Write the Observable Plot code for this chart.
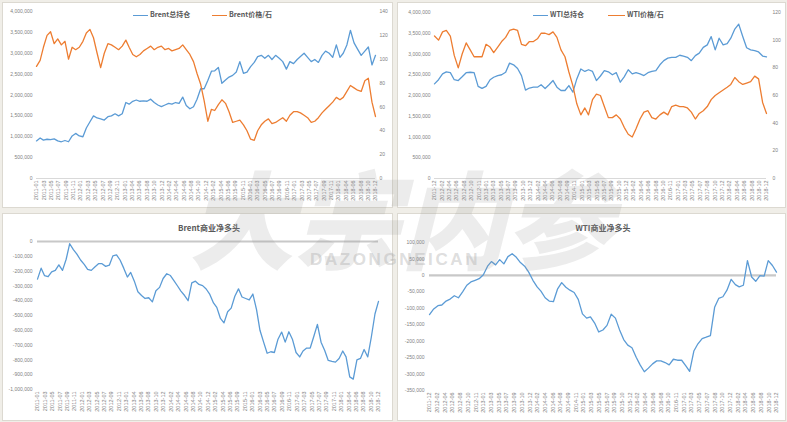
<!DOCTYPE html>
<html><head><meta charset="utf-8">
<script src="https://cdn.jsdelivr.net/npm/d3@7"></script>
<script src="https://cdn.jsdelivr.net/npm/@observablehq/plot@0.6"></script>
<style>
html,body{margin:0;padding:0;background:#fff;}
#root{position:relative;width:787px;height:422px;background:#f0eee8;overflow:hidden;font-family:"Liberation Sans",Arial,sans-serif;}
.panel{position:absolute;background:#fff;border:1px solid #dcd9d1;box-sizing:border-box;}
.chart{position:absolute;}
.chart svg{display:block;overflow:visible;}
.leg{position:absolute;font-family:"Noto Sans CJK SC","Liberation Sans",sans-serif;font-size:7px;font-weight:bold;color:#595959;white-space:nowrap;line-height:7px;}
.sw{position:absolute;height:1.6px;}
.title{position:absolute;font-family:"Noto Sans CJK SC",sans-serif;font-size:8px;font-weight:bold;color:#595959;white-space:nowrap;transform:translate(-50%,-50%);}
.wm{position:absolute;pointer-events:none;white-space:nowrap;}
</style></head>
<body><div id="root">
<div class="panel" style="left:2px;top:2px;width:391px;height:206px"></div>
<div class="panel" style="left:397px;top:2px;width:389px;height:206px"></div>
<div class="panel" style="left:2px;top:213px;width:391px;height:208px"></div>
<div class="panel" style="left:397px;top:213px;width:389px;height:208px"></div>
<div class="chart" id="tl" style="left:0;top:0"></div>
<div class="chart" id="tr" style="left:395px;top:0"></div>
<div class="chart" id="bl" style="left:0;top:210px"></div>
<div class="chart" id="br" style="left:395px;top:210px"></div>
<div class="sw" style="left:133px;top:14.5px;width:15px;background:#5b9bd5"></div>
<div class="leg" style="left:150px;top:11px">Brent总持仓</div>
<div class="sw" style="left:212px;top:14.5px;width:15px;background:#ed7d31"></div>
<div class="leg" style="left:229px;top:11px">Brent价格/石</div>
<div class="sw" style="left:533px;top:14.5px;width:15px;background:#5b9bd5"></div>
<div class="leg" style="left:550px;top:11px">WTI总持仓</div>
<div class="sw" style="left:608px;top:14.5px;width:17px;background:#ed7d31"></div>
<div class="leg" style="left:627px;top:11px">WTI价格/石</div>
<div class="title" style="left:209px;top:227px">Brent商业净多头</div>
<div class="title" style="left:603px;top:227px">WTI商业净多头</div>
<div class="wm" style="left:188px;top:138px;font-family:'Noto Sans CJK SC';font-weight:900;font-size:106px;font-style:italic;color:rgba(150,150,150,0.18)">大宗内参</div>
<div class="wm" style="left:310px;top:250px;font-family:'Liberation Sans';font-weight:bold;font-size:17px;letter-spacing:2.6px;color:rgba(170,170,170,0.4)">DAZONGNEICAN</div>
</div>
<script>
// ---------- data ----------
const brentTickLabels = ["2011-01","2011-03","2011-05","2011-07","2011-09","2011-11","2012-01","2012-03","2012-05","2012-07","2012-09","2012-11","2013-01","2013-04","2013-06","2013-08","2013-10","2013-12","2014-02","2014-04","2014-06","2014-08","2014-10","2014-12","2015-02","2015-04","2015-06","2015-09","2015-11","2016-01","2016-03","2016-05","2016-07","2016-09","2016-11","2017-01","2017-03","2017-05","2017-07","2017-09","2017-11","2018-01","2018-04","2018-06","2018-08","2018-10","2018-12"];
const wtiTickLabels = ["2011-12","2012-02","2012-04","2012-06","2012-08","2012-10","2012-11","2013-01","2013-03","2013-05","2013-07","2013-09","2013-10","2013-12","2014-02","2014-04","2014-06","2014-08","2014-09","2014-11","2015-01","2015-03","2015-05","2015-07","2015-09","2015-10","2015-12","2016-02","2016-04","2016-06","2016-08","2016-10","2016-11","2017-01","2017-03","2017-05","2017-07","2017-08","2017-10","2017-12","2018-02","2018-04","2018-06","2018-08","2018-10","2018-12"];

const oiTicks = [0,500000,1000000,1500000,2000000,2500000,3000000,3500000,4000000];
const brentPriceTicks = [0,20,40,60,80,100,120,140];
const wtiPriceTicks = [0,20,40,60,80,100,120];
const brentNetTicks = [-1000000,-900000,-800000,-700000,-600000,-500000,-400000,-300000,-200000,-100000,0];
const wtiNetTicks = [-350000,-300000,-250000,-200000,-150000,-100000,-50000,0,50000,100000];

// Brent, monthly from 2011-01 (open interest in millions of lots)
const brentOI = [0.90,0.97,0.92,0.94,0.93,0.95,0.90,0.88,0.91,0.88,1.02,1.08,
 1.02,1.00,1.21,1.36,1.50,1.45,1.43,1.40,1.48,1.50,1.55,1.50,
 1.55,1.82,1.78,1.85,1.88,1.85,1.86,1.85,1.90,1.82,1.76,1.72,
 1.76,1.80,1.78,1.82,1.80,1.95,1.75,1.67,1.72,1.90,2.15,2.15,
 2.35,2.57,2.58,2.66,2.28,2.36,2.43,2.47,2.55,2.80,2.52,2.55,
 2.68,2.78,2.92,2.95,2.88,2.95,2.85,2.95,2.88,2.80,2.62,2.80,
 2.75,2.85,2.92,3.00,2.90,2.80,2.85,2.78,2.95,3.05,3.00,2.90,
 3.20,2.90,3.00,3.20,3.55,3.25,3.10,2.95,3.05,3.15,2.72,2.95];
const brentPrice = [94,99,110,120,123,113,117,112,115,100,110,108,
 110,115,122,125,118,105,93,105,113,112,110,108,
 111,116,110,104,102,104,107,109,111,108,110,111,
 108,109,107,108,109,112,108,104,98,88,79,65,
 48,58,57,62,66,63,56,47,48,49,45,40,
 33,32,40,45,48,50,46,47,49,51,48,53,
 56,56,55,53,51,47,48,51,55,58,61,64,
 68,66,68,73,78,76,74,73,82,84,64,52];
const brentNet = [-254,-180,-230,-238,-205,-195,-158,-195,-120,-15,-55,-85,
 -125,-155,-188,-195,-172,-150,-150,-168,-160,-97,-90,-125,
 -180,-240,-209,-268,-340,-365,-385,-380,-408,-333,-310,-250,
 -218,-230,-262,-299,-335,-365,-400,-280,-268,-290,-298,-321,
 -358,-415,-445,-520,-550,-475,-450,-370,-320,-375,-385,-395,
 -355,-460,-600,-680,-755,-745,-750,-660,-612,-680,-610,-660,
 -750,-780,-740,-720,-720,-640,-560,-680,-737,-804,-810,-815,
 -790,-740,-780,-915,-930,-800,-790,-730,-780,-647,-490,-405];

// WTI, monthly from 2011-12
const wtiOI = [2.28,2.38,2.52,2.57,2.55,2.38,2.36,2.45,2.55,2.56,2.55,2.22,
 2.17,2.22,2.38,2.44,2.48,2.50,2.56,2.78,2.74,2.65,2.48,2.13,
 2.18,2.20,2.20,2.26,2.17,2.26,2.36,2.20,2.12,2.12,2.24,2.08,
 2.40,2.64,2.58,2.62,2.58,2.36,2.47,2.60,2.57,2.50,2.55,2.32,
 2.45,2.62,2.52,2.55,2.52,2.48,2.55,2.58,2.60,2.74,2.84,2.90,
 2.92,2.92,2.97,2.95,2.92,2.84,2.96,3.02,3.16,3.22,3.42,3.10,
 3.38,3.22,3.25,3.38,3.60,3.72,3.42,3.15,3.10,3.08,3.05,2.95,2.93];
const wtiPrice = [103,100,106,107,103,89,80,90,98,93,88,88,
 88,97,95,91,95,99,102,107,108,107,97,96,
 99,99,101,105,105,104,106,102,93,88,77,67,
 54,46,51,46,57,61,60,52,44,44,46,43,
 37,32,30,36,43,48,49,44,43,46,48,46,
 52,53,52,52,51,48,43,47,49,52,57,60,
 62,64,66,68,73,70,68,69,70,74,72,55,47];
const wtiNet = [-119,-102,-92,-90,-78,-72,-62,-68,-50,-30,-20,-15,
 -10,2,28,42,32,48,35,57,66,55,39,28,
 10,-15,-35,-48,-68,-78,-80,-42,-22,-36,-45,-52,
 -73,-117,-130,-126,-145,-172,-166,-152,-118,-130,-165,-195,
 -212,-220,-249,-272,-293,-282,-269,-260,-260,-265,-272,-255,
 -258,-258,-275,-292,-230,-208,-192,-188,-183,-97,-70,-65,
 -45,-12,-28,-35,-30,45,-5,-18,-1,-2,45,30,10];

// ---------- build ----------
const BLUE = "#5b9bd5", ORANGE = "#ed7d31";
const fmt = d3.formatLocale({decimal: ".", thousands: ",", grouping: [3], currency: ["", ""], minus: "-"}).format(",");
const kB = 4000000 / 140, kW = 4000000 / 120;

const brent = brentOI.map((v, i) => ({date: new Date(Date.UTC(2011, i, 4)), oi: v * 1e6, price: brentPrice[i] * kB, net: brentNet[i] * 1000}));
const wti = wtiOI.map((v, i) => ({date: new Date(Date.UTC(2011, 11 + i, 6)), oi: v * 1e6, price: wtiPrice[i] * kW, net: wtiNet[i] * 1000}));
const brentDomain = [brent[0].date, brent[brent.length - 1].date];
const wtiDomain = [wti[0].date, wti[wti.length - 1].date];

function ticksFor(domain, labels) {
  const a = +domain[0], b = +domain[1], n = labels.length;
  const dates = labels.map((_, i) => new Date(a + (b - a) * i / (n - 1)));
  const map = new Map(dates.map((d, i) => [+d, labels[i]]));
  return {dates, map};
}
const bT = ticksFor(brentDomain, brentTickLabels);
const wT = ticksFor(wtiDomain, wtiTickLabels);

const style = {fontFamily: "Liberation Sans, Arial, sans-serif", fontSize: "5px", color: "#7f7f7f", background: "transparent"};
const xAxis = (T) => Plot.axisX(T.dates, {anchor: "bottom", tickSize: 0, tickRotate: -90, tickPadding: 2, tickFormat: d => T.map.get(+d), fontSize: 5.5, label: null});

document.getElementById("tl").append(Plot.plot({
  width: 395, height: 210, marginLeft: 36, marginRight: 20, marginTop: 11, marginBottom: 32, style,
  x: {type: "utc", domain: brentDomain, label: null},
  y: {domain: [0, 4000000], label: null},
  marks: [
    Plot.ruleY([0], {stroke: "#d9d9d9"}),
    Plot.axisY(oiTicks, {tickSize: 0, tickPadding: 4, tickFormat: fmt, fontSize: 5, label: null}),
    Plot.text(brentPriceTicks, {y: d => d * kB, text: d => String(d), frameAnchor: "right", textAnchor: "start", dx: 4, fontSize: 5}),
    xAxis(bT),
    Plot.line(brent, {x: "date", y: "oi", stroke: BLUE, strokeWidth: 1.3}),
    Plot.line(brent, {x: "date", y: "price", stroke: ORANGE, strokeWidth: 1.3})
  ]
}));

document.getElementById("tr").append(Plot.plot({
  width: 392, height: 210, marginLeft: 39, marginRight: 21, marginTop: 12, marginBottom: 32, style,
  x: {type: "utc", domain: wtiDomain, label: null},
  y: {domain: [0, 4000000], label: null},
  marks: [
    Plot.ruleY([0], {stroke: "#d9d9d9"}),
    Plot.axisY(oiTicks, {tickSize: 0, tickPadding: 4, tickFormat: fmt, fontSize: 5, label: null}),
    Plot.text(wtiPriceTicks, {y: d => d * kW, text: d => String(d), frameAnchor: "right", textAnchor: "start", dx: 6, fontSize: 5}),
    xAxis(wT),
    Plot.line(wti, {x: "date", y: "oi", stroke: BLUE, strokeWidth: 1.3}),
    Plot.line(wti, {x: "date", y: "price", stroke: ORANGE, strokeWidth: 1.3})
  ]
}));

document.getElementById("bl").append(Plot.plot({
  width: 395, height: 212, marginLeft: 37, marginRight: 17, marginTop: 31, marginBottom: 33, style,
  x: {type: "utc", domain: brentDomain, label: null},
  y: {domain: [-1000000, 0], label: null},
  marks: [
    Plot.ruleY([0], {stroke: "#c8c8c8", strokeWidth: 2.2}),
    Plot.axisY(brentNetTicks, {tickSize: 0, tickPadding: 5, tickFormat: fmt, fontSize: 5, label: null}),
    xAxis(bT),
    Plot.line(brent, {x: "date", y: "net", stroke: BLUE, strokeWidth: 1.3})
  ]
}));

document.getElementById("br").append(Plot.plot({
  width: 392, height: 212, marginLeft: 34, marginRight: 11, marginTop: 32, marginBottom: 32, style,
  x: {type: "utc", domain: wtiDomain, label: null},
  y: {domain: [-350000, 100000], label: null},
  marks: [
    Plot.ruleY([0], {stroke: "#c8c8c8", strokeWidth: 2.2}),
    Plot.axisY(wtiNetTicks, {tickSize: 0, tickPadding: 5, tickFormat: fmt, fontSize: 5, label: null}),
    xAxis(wT),
    Plot.line(wti, {x: "date", y: "net", stroke: BLUE, strokeWidth: 1.3})
  ]
}));
</script>
</body></html>
